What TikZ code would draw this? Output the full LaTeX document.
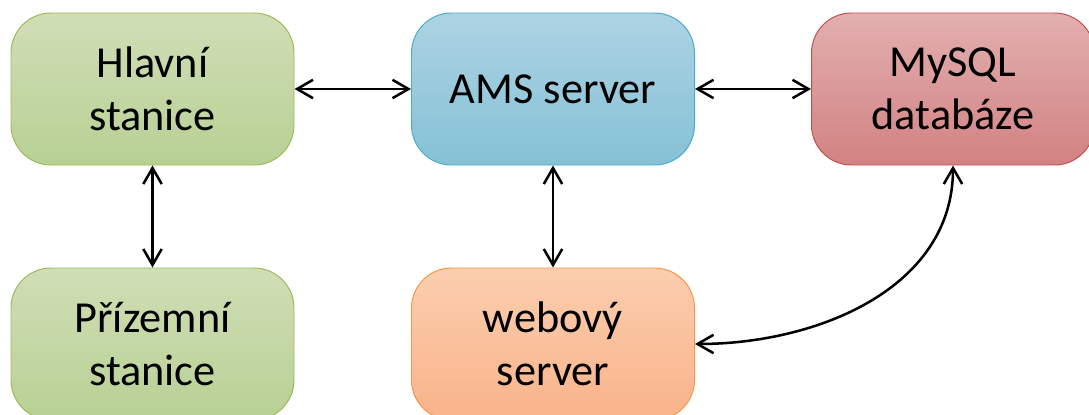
\documentclass[tikz,border=0pt]{standalone}
\usepackage{fontspec}
\setmainfont{Carlito}
\usetikzlibrary{arrows.meta}
\definecolor{zelHore}{HTML}{D0DEB6}
\definecolor{zelDole}{HTML}{B8D094}
\definecolor{zelOkraj}{HTML}{9BBB59}
\definecolor{modHore}{HTML}{ADD3E3}
\definecolor{modDole}{HTML}{85C1D6}
\definecolor{modOkraj}{HTML}{4BACC6}
\definecolor{cerHore}{HTML}{E3AFAF}
\definecolor{cerDole}{HTML}{D28282}
\definecolor{cerOkraj}{HTML}{C0504D}
\definecolor{oraHore}{HTML}{FBCEAF}
\definecolor{oraDole}{HTML}{F9B38A}
\definecolor{oraOkraj}{HTML}{F79646}
\begin{document}
\begin{tikzpicture}[
	blok/.style={rectangle, rounded corners=1cm, minimum width=7.075cm, minimum height=3.8cm, inner sep=0pt, align=center, line width=0.7pt, font=\fontsize{31.5}{37.7}\selectfont},
	zeleny/.style={blok, draw=zelOkraj, top color=zelHore, bottom color=zelDole},
	modry/.style={blok, draw=modOkraj, top color=modHore, bottom color=modDole},
	cerveny/.style={blok, draw=cerOkraj, top color=cerHore, bottom color=cerDole},
	oranzovy/.style={blok, draw=oraOkraj, top color=oraHore, bottom color=oraDole},
	spoj/.style={line width=1.8pt, {Straight Barb[length=0.4cm,width=0.46cm]}-{Straight Barb[length=0.4cm,width=0.46cm]}}]
	\clip (0,0) rectangle (27.225,10.35);
	\node[zeleny] (hlavni) at (3.8125, 8.125) {Hlavní\\stanice};
	\node[modry] (ams) at (13.825, 8.125) {AMS server};
	\node[cerveny] (mysql) at (23.825, 8.125) {MySQL\\databáze};
	\node[zeleny] (prizemni) at (3.8125, 1.75) {Přízemní\\stanice};
	\node[oranzovy] (web) at (13.825, 1.75) {webový\\server};
	\draw[spoj] (hlavni) -- (ams);
	\draw[spoj] (ams) -- (mysql);
	\draw[spoj] (hlavni) -- (prizemni);
	\draw[spoj] (ams) -- (web);
	\draw[spoj] (mysql.south) to[out=-90, in=0] (web.east);
\end{tikzpicture}
\end{document}
